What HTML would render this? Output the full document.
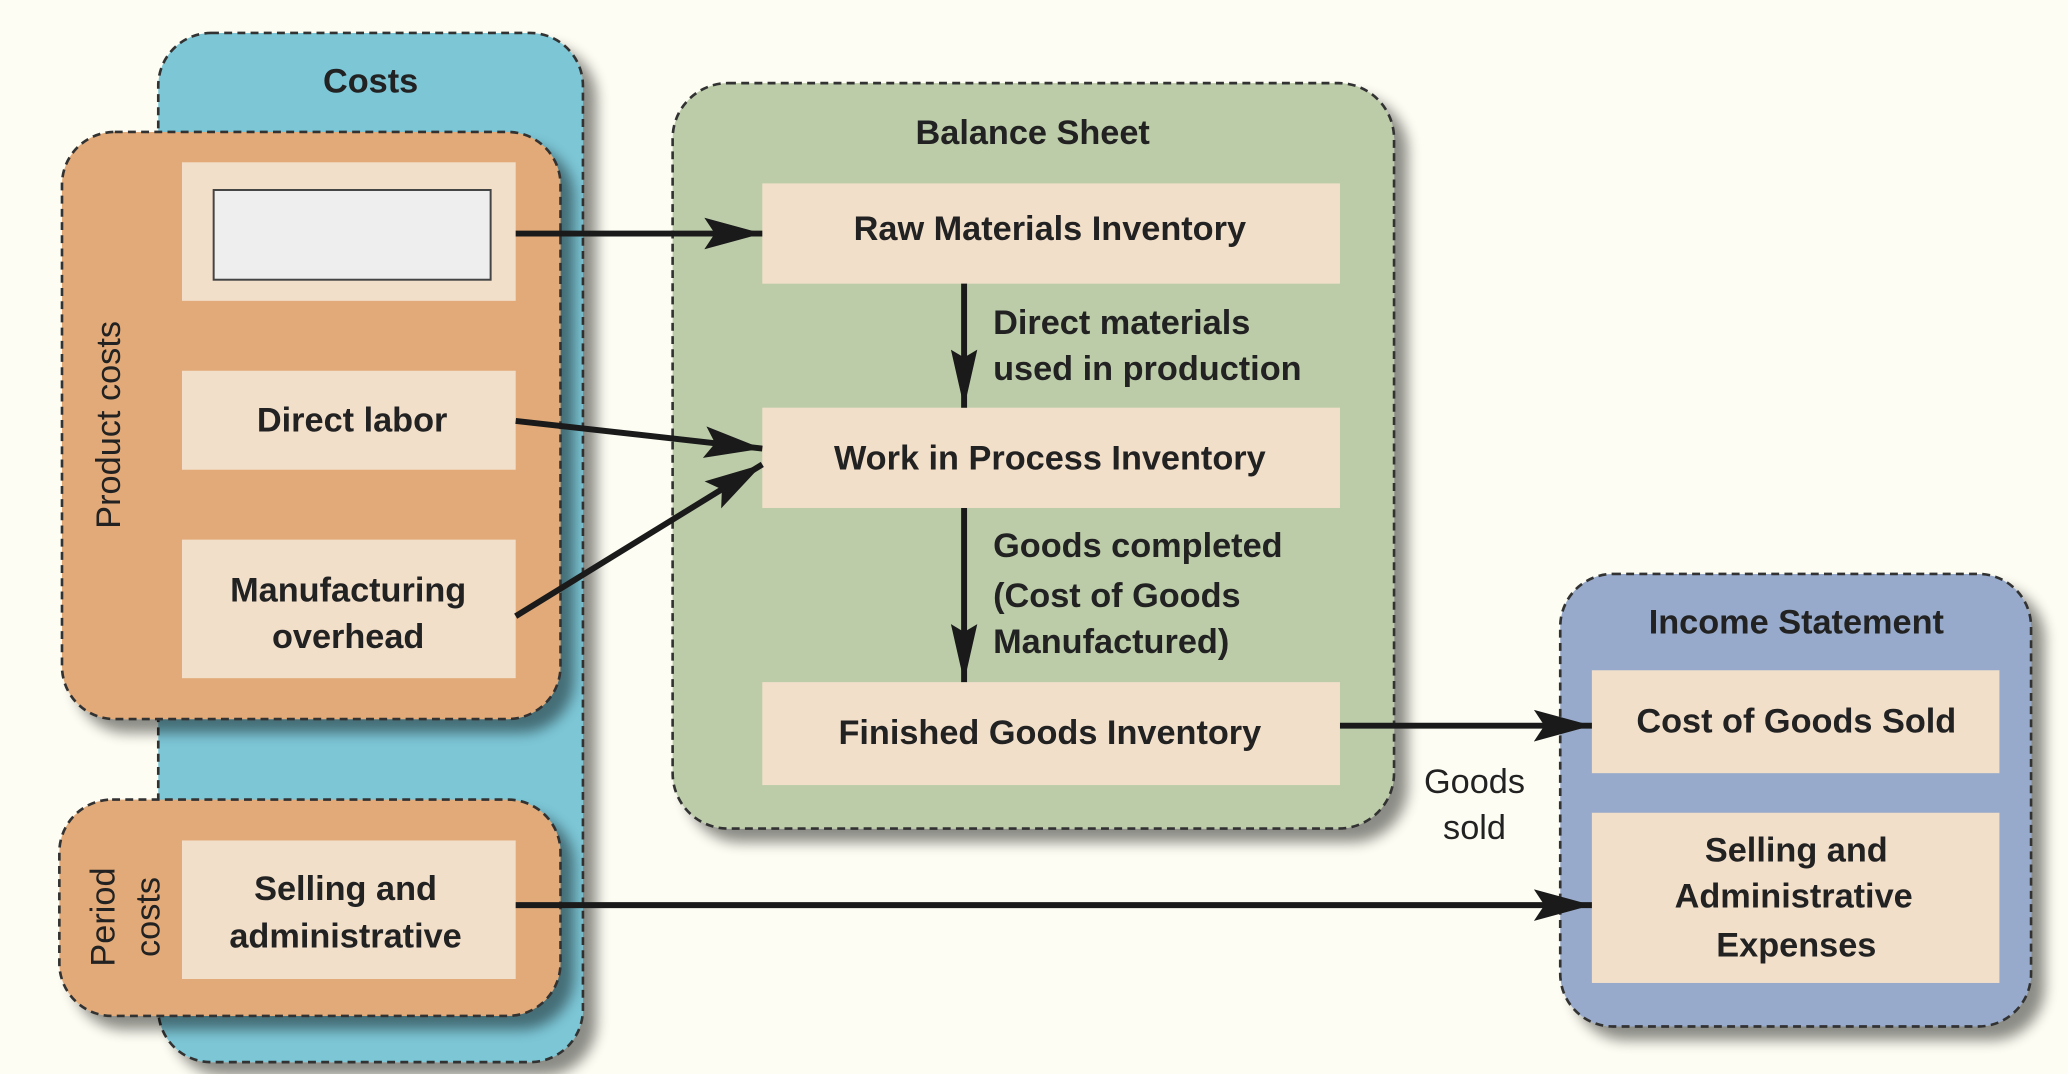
<!DOCTYPE html>
<html><head><meta charset="utf-8"><style>
html,body{margin:0;padding:0;background:#fdfdf3;}
svg{display:block}
text{font-family:"Liberation Sans",sans-serif;fill:#222;}
.b{font-weight:bold;font-size:26px;}
</style></head><body>
<svg width="2068" height="1074" viewBox="0 0 1568 814" preserveAspectRatio="none" xmlns="http://www.w3.org/2000/svg">
<defs>
<filter id="sh" x="-10%" y="-10%" width="130%" height="130%"><feGaussianBlur in="SourceAlpha" stdDeviation="5"/><feOffset dx="10" dy="10"/><feComponentTransfer><feFuncA type="linear" slope="0.45"/></feComponentTransfer><feMerge><feMergeNode/><feMergeNode in="SourceGraphic"/></feMerge></filter>
<marker id="a" viewBox="0 0 44 24" markerWidth="44" markerHeight="24" refX="44" refY="12" orient="auto" markerUnits="userSpaceOnUse"><path d="M0,0 L44,12 L0,24 L8,12 z" fill="#1a1a1a"/></marker>
<marker id="av" viewBox="0 0 44 20" markerWidth="44" markerHeight="20" refX="44" refY="10" orient="auto" markerUnits="userSpaceOnUse"><path d="M0,0 L44,10 L0,20 L6,10 z" fill="#1a1a1a"/></marker>
</defs>
<rect width="1568" height="814" fill="#fdfdf3"/>
<g stroke="#333" stroke-width="2" stroke-dasharray="6,4">
<rect x="120" y="25" width="322" height="780" rx="40" fill="#7cc6d6" filter="url(#sh)"/>
<rect x="47" y="100" width="378" height="445" rx="40" fill="#e2aa78" filter="url(#sh)"/>
<rect x="45" y="606" width="380" height="164" rx="40" fill="#e2aa78" filter="url(#sh)"/>
<rect x="510" y="63" width="547" height="565" rx="42" fill="#bccca9" filter="url(#sh)"/>
<rect x="1183" y="435" width="357" height="343" rx="40" fill="#97aacb" filter="url(#sh)"/>
</g>
<g fill="#f2dfca">
<rect x="138" y="123" width="253" height="105"/>
<rect x="138" y="281" width="253" height="75"/>
<rect x="138" y="409" width="253" height="105"/>
<rect x="138" y="637" width="253" height="105"/>
<rect x="578" y="139" width="438" height="76"/>
<rect x="578" y="309" width="438" height="76"/>
<rect x="578" y="517" width="438" height="78"/>
<rect x="1207" y="508" width="309" height="78"/>
<rect x="1207" y="616" width="309" height="129"/>
</g>
<rect x="162" y="144" width="210" height="68" fill="#eeeeee" stroke="#444" stroke-width="1.5"/>
<g stroke="#1a1a1a" stroke-width="4.5" fill="none">
<line x1="391" y1="177" x2="578" y2="177" marker-end="url(#a)"/>
<line x1="391" y1="319" x2="578" y2="340" marker-end="url(#a)"/>
<line x1="391" y1="467" x2="578" y2="352" marker-end="url(#a)"/>
<line x1="731" y1="215" x2="731" y2="309" marker-end="url(#av)"/>
<line x1="731" y1="385" x2="731" y2="517" marker-end="url(#av)"/>
<line x1="1016" y1="550" x2="1207" y2="550" marker-end="url(#a)"/>
<line x1="391" y1="686" x2="1207" y2="686" marker-end="url(#a)"/>
</g>
<text class="b" x="281" y="70" text-anchor="middle">Costs</text>
<text class="b" x="783" y="109" text-anchor="middle">Balance Sheet</text>
<text class="b" x="1362" y="480" text-anchor="middle">Income Statement</text>
<text x="82" y="322" font-size="26" text-anchor="middle" transform="rotate(-90 82 322)" dy="9">Product costs</text>
<text x="78" y="695" font-size="26" text-anchor="middle" transform="rotate(-90 78 695)" dy="9">Period</text>
<text x="112" y="695" font-size="26" text-anchor="middle" transform="rotate(-90 112 695)" dy="9">costs</text>
<text class="b" x="267" y="327" text-anchor="middle">Direct labor</text>
<text class="b" x="264" y="456" text-anchor="middle">Manufacturing</text>
<text class="b" x="264" y="491" text-anchor="middle">overhead</text>
<text class="b" x="262" y="682" text-anchor="middle">Selling and</text>
<text class="b" x="262" y="718" text-anchor="middle">administrative</text>
<text class="b" x="796" y="182" text-anchor="middle">Raw Materials Inventory</text>
<text class="b" x="796" y="356" text-anchor="middle">Work in Process Inventory</text>
<text class="b" x="796" y="564" text-anchor="middle">Finished Goods Inventory</text>
<text class="b" x="753" y="253">Direct materials</text>
<text class="b" x="753" y="288">used in production</text>
<text class="b" x="753" y="422">Goods completed</text>
<text class="b" x="753" y="460">(Cost of Goods</text>
<text class="b" x="753" y="495">Manufactured)</text>
<text x="1118" y="601" font-size="26" text-anchor="middle">Goods</text>
<text x="1118" y="636" font-size="26" text-anchor="middle">sold</text>
<text class="b" x="1362" y="555" text-anchor="middle">Cost of Goods Sold</text>
<text class="b" x="1362" y="653" text-anchor="middle">Selling and</text>
<text class="b" x="1360" y="688" text-anchor="middle">Administrative</text>
<text class="b" x="1362" y="725" text-anchor="middle">Expenses</text>
</svg>
</body></html>
